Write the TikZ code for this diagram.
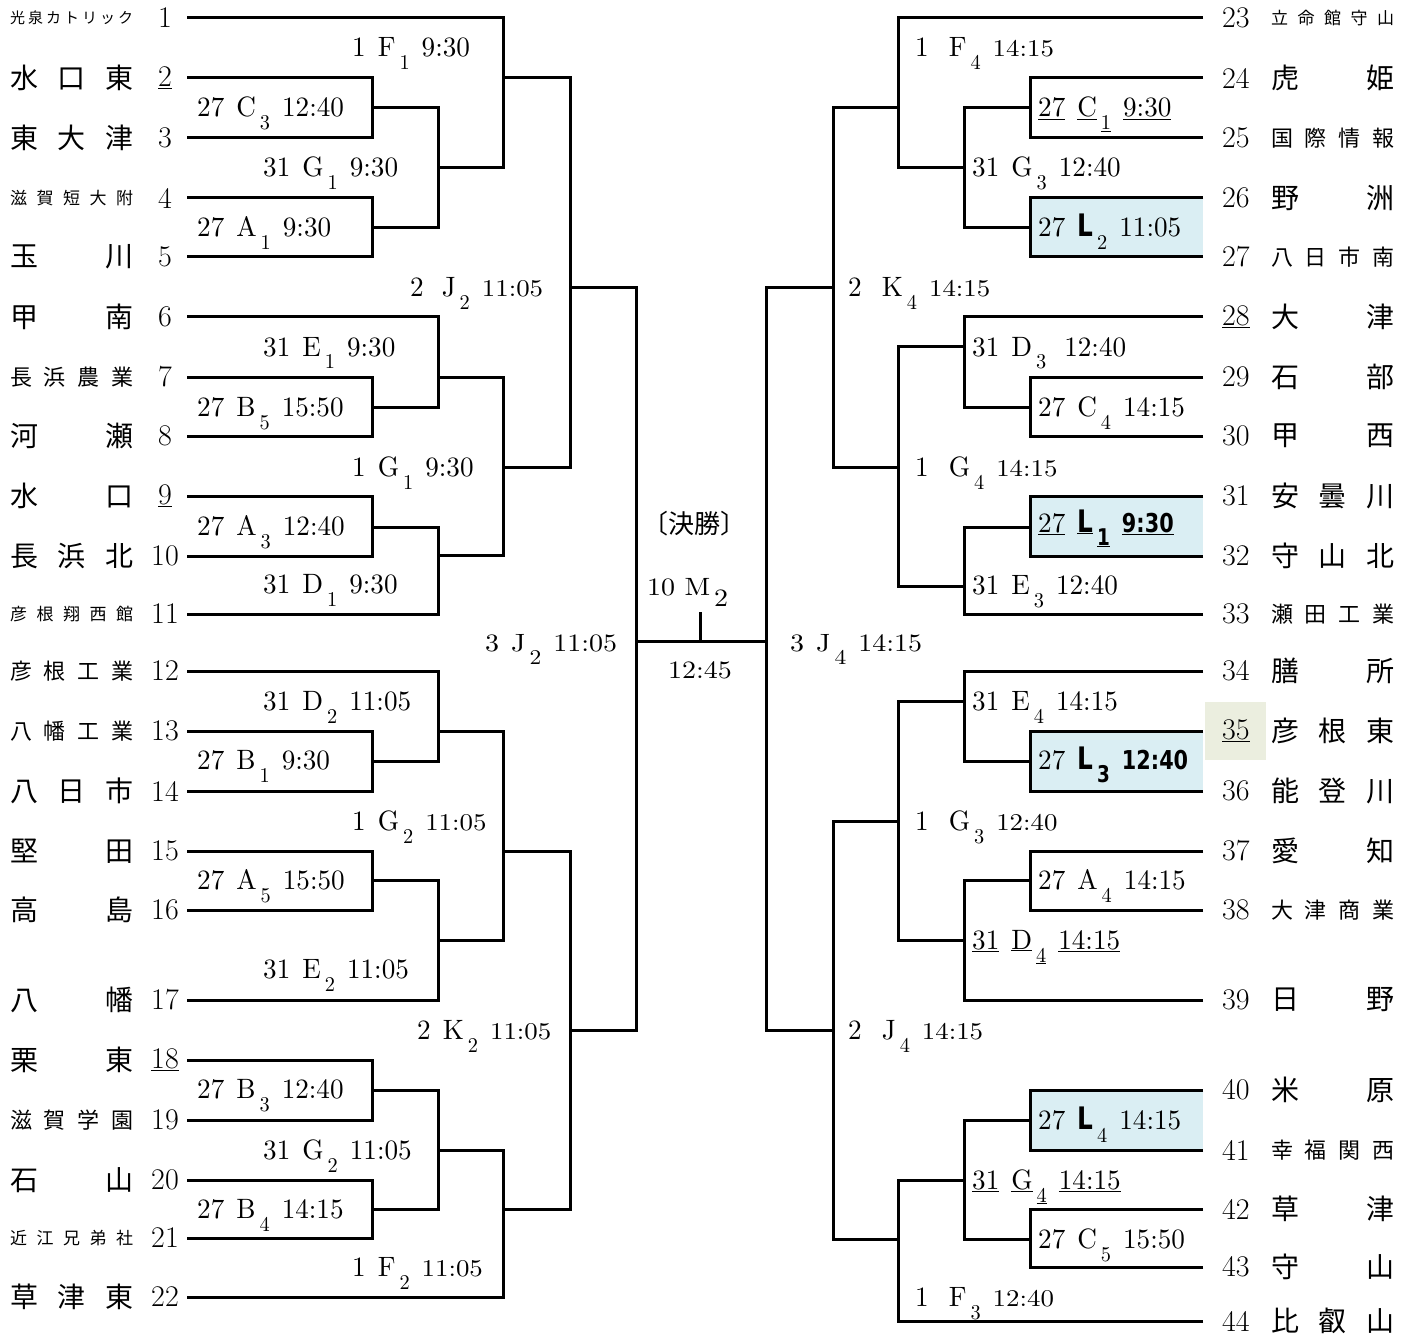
\documentclass[tikz,border=0pt]{standalone}
\usepackage{fontspec}
\newfontfamily\jpfont{Noto Sans CJK JP}
\newfontfamily\condfont{lmroman10-regular}[Extension=.otf,FakeStretch=0.97]
\newfontfamily\widefont{lmroman10-regular}[Extension=.otf,FakeStretch=1.12]
\newfontfamily\gothfont{DejaVu Sans}[FakeStretch=0.8]
\definecolor{boxblue}{RGB}{218,238,243}
\definecolor{seedbg}{RGB}{235,238,223}

% spread the letters of a school name over the name column
\def\spreadA#1{#1\spreadB}
\def\spreadB#1{\ifx\relax#1\else\hfill#1\expandafter\spreadB\fi}
\newcommand\tname[1]{\makebox[123pt]{\spreadA#1\relax}}
% game label: day, court, number, time
\newcommand\gm[4]{{#1}\hspace{12pt}{#2}\hspace{4pt}\raisebox{-13pt}{\fontsize{21}{21}\selectfont{#3}}\hspace{12pt}{#4}}
\newcommand\wt[1]{{\widefont\fontsize{24}{24}\selectfont #1}}
\newcommand\gb{\gothfont\bfseries\fontsize{31}{31}\selectfont}
\newcommand\gbs{\gothfont\bfseries\fontsize{23}{23}\selectfont}
\newcommand\gbt{\gothfont\bfseries\fontsize{26}{26}\selectfont}

\begin{document}
\begin{tikzpicture}[x=1pt,y=-1pt,
    bk/.style={line width=3pt},
    lnum/.style={font=\fontsize{30}{30}\selectfont, inner sep=0pt, xshift=-22pt},
    rnum/.style={font=\fontsize{30}{30}\selectfont, inner sep=0pt, anchor=west, xshift=19pt},
    lname/.style={inner sep=0pt, anchor=west, xshift=-177pt},
    rname/.style={inner sep=0pt, anchor=west, xshift=68pt},
    jbig/.style={font=\jpfont\fontsize{28}{28}\selectfont},
    jmid/.style={font=\jpfont\fontsize{22}{22}\selectfont},
    jsmall/.style={font=\jpfont\fontsize{17}{17}\selectfont},
    game/.style={font=\condfont\fontsize{28}{28}\selectfont, inner sep=0pt, anchor=base west},
    wide/.style={font=\widefont\fontsize{25}{25}\selectfont, inner sep=0pt, anchor=base west}]
\useasboundingbox (0,0) rectangle (1413,1337);

% left teams
\coordinate (a1) at (187,18);   \node[lnum] (n1) at (a1) {1};  \node[lname,font=\jpfont\fontsize{15}{15}\selectfont] (t1) at (a1) {\tname{光泉カトリック}};
\coordinate (a2) at (187,78);   \node[lnum] (n2) at (a2) {\underline{2}};  \node[lname,jbig] (t2) at (a2) {\tname{水口東}};
\coordinate (a3) at (187,138);  \node[lnum] (n3) at (a3) {3};  \node[lname,jbig] (t3) at (a3) {\tname{東大津}};
\coordinate (a4) at (187,198);  \node[lnum] (n4) at (a4) {4};  \node[lname,jsmall] (t4) at (a4) {\tname{滋賀短大附}};
\coordinate (a5) at (187,257);  \node[lnum] (n5) at (a5) {5};  \node[lname,jbig] (t5) at (a5) {\tname{玉川}};
\coordinate (a6) at (187,317);  \node[lnum] (n6) at (a6) {6};  \node[lname,jbig] (t6) at (a6) {\tname{甲南}};
\coordinate (a7) at (187,377);  \node[lnum] (n7) at (a7) {7};  \node[lname,jmid] (t7) at (a7) {\tname{長浜農業}};
\coordinate (a8) at (187,436);  \node[lnum] (n8) at (a8) {8};  \node[lname,jbig] (t8) at (a8) {\tname{河瀬}};
\coordinate (a9) at (187,496);  \node[lnum] (n9) at (a9) {\underline{9}};  \node[lname,jbig] (t9) at (a9) {\tname{水口}};
\coordinate (a10) at (187,556); \node[lnum] (n10) at (a10) {10}; \node[lname,jbig] (t10) at (a10) {\tname{長浜北}};
\coordinate (a11) at (187,614); \node[lnum] (n11) at (a11) {11}; \node[lname,jsmall] (t11) at (a11) {\tname{彦根翔西館}};
\coordinate (a12) at (187,671); \node[lnum] (n12) at (a12) {12}; \node[lname,jmid] (t12) at (a12) {\tname{彦根工業}};
\coordinate (a13) at (187,731); \node[lnum] (n13) at (a13) {13}; \node[lname,jmid] (t13) at (a13) {\tname{八幡工業}};
\coordinate (a14) at (187,791); \node[lnum] (n14) at (a14) {14}; \node[lname,jbig] (t14) at (a14) {\tname{八日市}};
\coordinate (a15) at (187,851); \node[lnum] (n15) at (a15) {15}; \node[lname,jbig] (t15) at (a15) {\tname{堅田}};
\coordinate (a16) at (187,910); \node[lnum] (n16) at (a16) {16}; \node[lname,jbig] (t16) at (a16) {\tname{高島}};
\coordinate (a17) at (187,1000); \node[lnum] (n17) at (a17) {17}; \node[lname,jbig] (t17) at (a17) {\tname{八幡}};
\coordinate (a18) at (187,1060); \node[lnum] (n18) at (a18) {\underline{18}}; \node[lname,jbig] (t18) at (a18) {\tname{栗東}};
\coordinate (a19) at (187,1120); \node[lnum] (n19) at (a19) {19}; \node[lname,jmid] (t19) at (a19) {\tname{滋賀学園}};
\coordinate (a20) at (187,1180); \node[lnum] (n20) at (a20) {20}; \node[lname,jbig] (t20) at (a20) {\tname{石山}};
\coordinate (a21) at (187,1238); \node[lnum] (n21) at (a21) {21}; \node[lname,jsmall] (t21) at (a21) {\tname{近江兄弟社}};
\coordinate (a22) at (187,1297); \node[lnum] (n22) at (a22) {22}; \node[lname,jbig] (t22) at (a22) {\tname{草津東}};

% right teams
\coordinate (b23) at (1203,18);  \node[rnum] (n23) at (b23) {23}; \node[rname,jsmall] (t23) at (b23) {\tname{立命館守山}};
\coordinate (b24) at (1203,78);  \node[rnum] (n24) at (b24) {24}; \node[rname,jbig] (t24) at (b24) {\tname{虎姫}};
\coordinate (b25) at (1203,138); \node[rnum] (n25) at (b25) {25}; \node[rname,jmid] (t25) at (b25) {\tname{国際情報}};
\coordinate (b26) at (1203,198); \node[rnum] (n26) at (b26) {26}; \node[rname,jbig] (t26) at (b26) {\tname{野洲}};
\coordinate (b27) at (1203,257); \node[rnum] (n27) at (b27) {27}; \node[rname,jmid] (t27) at (b27) {\tname{八日市南}};
\coordinate (b28) at (1203,317); \node[rnum] (n28) at (b28) {\underline{28}}; \node[rname,jbig] (t28) at (b28) {\tname{大津}};
\coordinate (b29) at (1203,377); \node[rnum] (n29) at (b29) {29}; \node[rname,jbig] (t29) at (b29) {\tname{石部}};
\coordinate (b30) at (1203,436); \node[rnum] (n30) at (b30) {30}; \node[rname,jbig] (t30) at (b30) {\tname{甲西}};
\coordinate (b31) at (1203,496); \node[rnum] (n31) at (b31) {31}; \node[rname,jbig] (t31) at (b31) {\tname{安曇川}};
\coordinate (b32) at (1203,556); \node[rnum] (n32) at (b32) {32}; \node[rname,jbig] (t32) at (b32) {\tname{守山北}};
\coordinate (b33) at (1203,614); \node[rnum] (n33) at (b33) {33}; \node[rname,jmid] (t33) at (b33) {\tname{瀬田工業}};
\coordinate (b34) at (1203,671); \node[rnum] (n34) at (b34) {34}; \node[rname,jbig] (t34) at (b34) {\tname{膳所}};
\coordinate (b35) at (1203,731); \fill[seedbg] (1205,702) rectangle (1266,760);
                                  \node[rnum] (n35) at (b35) {\underline{35}}; \node[rname,jbig] (t35) at (b35) {\tname{彦根東}};
\coordinate (b36) at (1203,791); \node[rnum] (n36) at (b36) {36}; \node[rname,jbig] (t36) at (b36) {\tname{能登川}};
\coordinate (b37) at (1203,851); \node[rnum] (n37) at (b37) {37}; \node[rname,jbig] (t37) at (b37) {\tname{愛知}};
\coordinate (b38) at (1203,910); \node[rnum] (n38) at (b38) {38}; \node[rname,jmid] (t38) at (b38) {\tname{大津商業}};
\coordinate (b39) at (1203,1000); \node[rnum] (n39) at (b39) {39}; \node[rname,jbig] (t39) at (b39) {\tname{日野}};
\coordinate (b40) at (1203,1090); \node[rnum] (n40) at (b40) {40}; \node[rname,jbig] (t40) at (b40) {\tname{米原}};
\coordinate (b41) at (1203,1150); \node[rnum] (n41) at (b41) {41}; \node[rname,jmid] (t41) at (b41) {\tname{幸福関西}};
\coordinate (b42) at (1203,1209); \node[rnum] (n42) at (b42) {42}; \node[rname,jbig] (t42) at (b42) {\tname{草津}};
\coordinate (b43) at (1203,1267); \node[rnum] (n43) at (b43) {43}; \node[rname,jbig] (t43) at (b43) {\tname{守山}};
\coordinate (b44) at (1203,1321); \node[rnum] (n44) at (b44) {44}; \node[rname,jbig] (t44) at (b44) {\tname{比叡山}};

% games, left
\coordinate (m27c3) at (372,108);  \coordinate (m27a1) at (372,228);
\coordinate (m31g1) at (438,168);  \coordinate (m1f1) at (503,78);
\coordinate (m27b5) at (372,407);  \coordinate (m31e1) at (438,377);
\coordinate (m27a3) at (372,527);  \coordinate (m31d1) at (438,555);
\coordinate (m1g1) at (503,467);   \coordinate (m2j2) at (570,288);
\coordinate (m27b1) at (372,761);  \coordinate (m31d2) at (438,731);
\coordinate (m27a5) at (372,880);  \coordinate (m31e2) at (438,940);
\coordinate (m1g2) at (503,851);
\coordinate (m27b3) at (372,1090); \coordinate (m27b4) at (372,1209);
\coordinate (m31g2) at (438,1150); \coordinate (m1f2) at (503,1209);
\coordinate (m2k2) at (570,1030);  \coordinate (m3j2) at (636,641);

% games, right
\coordinate (m27c1) at (1030,108); \coordinate (m27l2) at (1030,228);
\coordinate (m31g3) at (964,168);  \coordinate (m1f4) at (898,108);
\coordinate (m27c4) at (1030,407); \coordinate (m31d3) at (964,347);
\coordinate (m27l1) at (1030,527); \coordinate (m31e3) at (964,586);
\coordinate (m1g4) at (898,467);   \coordinate (m2k4) at (833,288);
\coordinate (m27l3) at (1030,761); \coordinate (m31e4) at (964,701);
\coordinate (m27a4) at (1030,880); \coordinate (m31d4) at (964,940);
\coordinate (m1g3) at (898,821);
\coordinate (m27l4) at (1030,1120); \coordinate (m27c5) at (1030,1239);
\coordinate (m31g4) at (964,1180); \coordinate (m1f3) at (898,1239);
\coordinate (m2j4) at (833,1030);  \coordinate (m3j4) at (766,641);

% final
\coordinate (fin) at (700,641);
\coordinate (tick) at (700,612);

% shaded games
\fill[boxblue] (b26 -| m27l2) rectangle (b27);
\fill[boxblue] (b31 -| m27l1) rectangle (b32);
\fill[boxblue] (b35 -| m27l3) rectangle (b36);
\fill[boxblue] (b40 -| m27l4) rectangle (b41);

% left bracket
\draw[bk] (a2) -| (m27c3) (a3) -| (m27c3);
\draw[bk] (a4) -| (m27a1) (a5) -| (m27a1);
\draw[bk] (m27c3) -| (m31g1) (m27a1) -| (m31g1);
\draw[bk] (a1) -| (m1f1) (m31g1) -| (m1f1);
\draw[bk] (a7) -| (m27b5) (a8) -| (m27b5);
\draw[bk] (a6) -| (m31e1) (m27b5) -| (m31e1);
\draw[bk] (a9) -| (m27a3) (a10) -| (m27a3);
\draw[bk] (m27a3) -| (m31d1) (a11) -| (m31d1);
\draw[bk] (m31e1) -| (m1g1) (m31d1) -| (m1g1);
\draw[bk] (m1f1) -| (m2j2) (m1g1) -| (m2j2);
\draw[bk] (a13) -| (m27b1) (a14) -| (m27b1);
\draw[bk] (a12) -| (m31d2) (m27b1) -| (m31d2);
\draw[bk] (a15) -| (m27a5) (a16) -| (m27a5);
\draw[bk] (m27a5) -| (m31e2) (a17) -| (m31e2);
\draw[bk] (m31d2) -| (m1g2) (m31e2) -| (m1g2);
\draw[bk] (a18) -| (m27b3) (a19) -| (m27b3);
\draw[bk] (a20) -| (m27b4) (a21) -| (m27b4);
\draw[bk] (m27b3) -| (m31g2) (m27b4) -| (m31g2);
\draw[bk] (m31g2) -| (m1f2) (a22) -| (m1f2);
\draw[bk] (m1g2) -| (m2k2) (m1f2) -| (m2k2);
\draw[bk] (m2j2) -| (m3j2) (m2k2) -| (m3j2);

% right bracket
\draw[bk] (b24) -| (m27c1) (b25) -| (m27c1);
\draw[bk] (b26) -| (m27l2) (b27) -| (m27l2);
\draw[bk] (m27c1) -| (m31g3) (m27l2) -| (m31g3);
\draw[bk] (b23) -| (m1f4) (m31g3) -| (m1f4);
\draw[bk] (b29) -| (m27c4) (b30) -| (m27c4);
\draw[bk] (b28) -| (m31d3) (m27c4) -| (m31d3);
\draw[bk] (b31) -| (m27l1) (b32) -| (m27l1);
\draw[bk] (m27l1) -| (m31e3) (b33) -| (m31e3);
\draw[bk] (m31d3) -| (m1g4) (m31e3) -| (m1g4);
\draw[bk] (m1f4) -| (m2k4) (m1g4) -| (m2k4);
\draw[bk] (b35) -| (m27l3) (b36) -| (m27l3);
\draw[bk] (b34) -| (m31e4) (m27l3) -| (m31e4);
\draw[bk] (b37) -| (m27a4) (b38) -| (m27a4);
\draw[bk] (m27a4) -| (m31d4) (b39) -| (m31d4);
\draw[bk] (m31e4) -| (m1g3) (m31d4) -| (m1g3);
\draw[bk] (b40) -| (m27l4) (b41) -| (m27l4);
\draw[bk] (b42) -| (m27c5) (b43) -| (m27c5);
\draw[bk] (m27l4) -| (m31g4) (m27c5) -| (m31g4);
\draw[bk] (m31g4) -| (m1f3) (b44) -| (m1f3);
\draw[bk] (m1g3) -| (m2j4) (m1f3) -| (m2j4);
\draw[bk] (m2k4) -| (m3j4) (m2j4) -| (m3j4);

% final
\draw[bk] (m3j2) -- (m3j4);
\draw[bk] (fin) -- (tick);

% game labels, left
\node[game] (lf1) at (352,57) {\gm{1}{F}{1}{9:30}};
\node[game] (lc3) at (197,117) {\gm{27}{C}{3}{12:40}};
\node[game] (lg1) at (263,177) {\gm{31}{G}{1}{9:30}};
\node[game] (la1) at (197,237) {\gm{27}{A}{1}{9:30}};
\node[game] (lj2) at (410,297) {\gm{2\hspace{6pt}}{J}{2}{\wt{11:05}}};
\node[game] (le1) at (263,356) {\gm{31}{E}{1}{9:30}};
\node[game] (lb5) at (197,416) {\gm{27}{B}{5}{15:50}};
\node[game] (lg1b) at (352,476) {\gm{1}{G}{1}{9:30}};
\node[game] (la3) at (197,535) {\gm{27}{A}{3}{12:40}};
\node[game] (ld1) at (263,593) {\gm{31}{D}{1}{9:30}};
\node[game] (ld2) at (263,710) {\gm{31}{D}{2}{11:05}};
\node[game] (lb1) at (197,769) {\gm{27}{B}{1}{9:30}};
\node[game] (lg2) at (352,830) {\gm{1}{G}{2}{\wt{11:05}}};
\node[game] (la5) at (197,889) {\gm{27}{A}{5}{15:50}};
\node[game] (le2) at (263,978) {\gm{31}{E}{2}{11:05}};
\node[game] (lk2) at (417,1039) {\gm{2}{K}{2}{\wt{11:05}}};
\node[game] (lb3) at (197,1098) {\gm{27}{B}{3}{12:40}};
\node[game] (lg2b) at (263,1159) {\gm{31}{G}{2}{11:05}};
\node[game] (lb4) at (197,1218) {\gm{27}{B}{4}{14:15}};
\node[game] (lf2) at (352,1276) {\gm{1}{F}{2}{\wt{11:05}}};

% game labels, right
\node[game] (lf4) at (915,57) {\gm{1\hspace{8pt}}{F}{4}{\wt{14:15}}};
\node[game] (lc1) at (1038,117) {\gm{\underline{27}}{\underline{C}}{\underline{1}}{\underline{9:30}}};
\node[game] (lg3) at (972,177) {\gm{31}{G}{3}{12:40}};
\node[game] (ll2) at (1038,237) {\gm{27}{\gb L}{2}{11:05}};
\node[game] (lk4) at (848,297) {\gm{2\hspace{8pt}}{K}{4}{\wt{14:15}}};
\node[game] (ld3) at (972,356) {\gm{31}{D}{3}{\hspace{6pt}12:40}};
\node[game] (lc4) at (1038,416) {\gm{27}{C}{4}{14:15}};
\node[game] (lg4) at (915,476) {\gm{1\hspace{8pt}}{G}{4}{\wt{14:15}}};
\node[game] (ll1) at (1038,532) {\gm{\underline{27}}{\underline{\gb L}}{\underline{\gbs 1}}{\underline{\gbt 9:30}}};
\node[game] (le3) at (972,594) {\gm{31}{E}{3}{12:40}};
\node[game] (le4) at (972,710) {\gm{31}{E}{4}{14:15}};
\node[game] (ll3) at (1038,769) {\gm{27}{\gb L}{\gbs 3}{\gbt 12:40}};
\node[game] (lg3b) at (915,830) {\gm{1\hspace{8pt}}{G}{3}{\wt{12:40}}};
\node[game] (la4) at (1038,889) {\gm{27}{A}{4}{14:15}};
\node[game] (ld4) at (972,949) {\gm{\underline{31}}{\underline{D}}{\underline{4}}{\underline{14:15}}};
\node[game] (lj4) at (848,1039) {\gm{2\hspace{8pt}}{J}{4}{\wt{14:15}}};
\node[game] (ll4) at (1038,1129) {\gm{27}{\gb L}{4}{14:15}};
\node[game] (lg4b) at (972,1189) {\gm{\underline{31}}{\underline{G}}{\underline{4}}{\underline{14:15}}};
\node[game] (lc5) at (1038,1248) {\gm{27}{C}{5}{15:50}};
\node[game] (lf3) at (915,1306) {\gm{1\hspace{8pt}}{F}{3}{\wt{12:40}}};

% semi finals and final
\node[wide] (l3j2) at (485,651) {\gm{3}{J}{2}{11:05}};
\node[wide] (l3j4) at (790,651) {\gm{3}{J}{4}{14:15}};
\node[inner sep=0pt, font=\jpfont\fontsize{26}{26}\selectfont] (lfinal) at (694,524) {〔決勝〕};
\node[wide] (lm2) at (647,595) {10 M\hspace{4pt}\raisebox{-11pt}{2}};
\node[wide] (ltime) at (668,678) {12:45};
\end{tikzpicture}
\end{document}
